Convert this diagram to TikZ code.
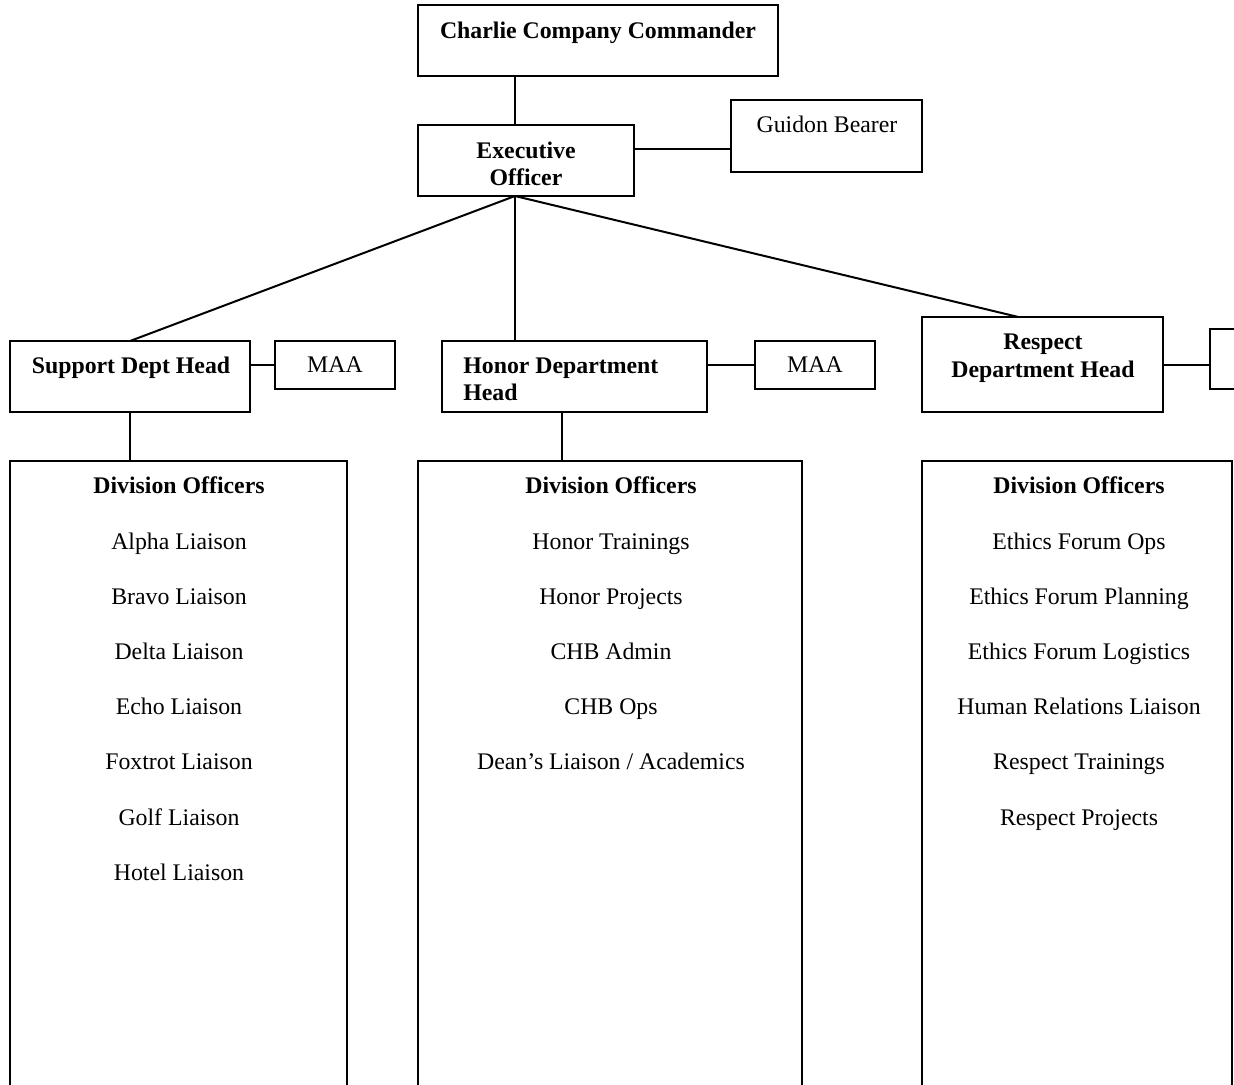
\documentclass[tikz,border=0pt]{standalone}
\usepackage{fontspec}
\setmainfont{Liberation Serif}
\usetikzlibrary{calc}
\begin{document}
\begin{tikzpicture}[x=0.5pt,y=-0.5pt,
  box/.style={draw=black,line width=1pt,inner sep=0pt,outer sep=0pt,fill=white},
  conn/.style={draw=black,line width=1pt},
  txt/.style={inner sep=0pt,anchor=base,font=\fontsize{11.9}{13.5}\selectfont,text=black},
  btxt/.style={txt,font=\fontsize{11.9}{13.5}\selectfont\bfseries}]
\useasboundingbox (0,0) rectangle (1234,1084);
\clip (0,0) rectangle (1234,1084);
% boxes
\node[box,minimum width=180pt,minimum height=35.5pt] (cmd) at (598,40.5) {};
\node[box,minimum width=108pt,minimum height=35.5pt] (exec) at (526,160.5) {};
\node[box,minimum width=95.5pt,minimum height=36pt] (gb) at (826.5,136) {};
\node[box,minimum width=120pt,minimum height=35.5pt] (suph) at (130,376.5) {};
\node[box,minimum width=60pt,minimum height=24pt] (supmaa) at (335,365) {};
\node[box,minimum width=132.5pt,minimum height=35.5pt] (honh) at (574.5,376.5) {};
\node[box,minimum width=60pt,minimum height=24pt] (honmaa) at (815,365) {};
\node[box,minimum width=120.5pt,minimum height=47.5pt] (resh) at (1042.5,364.5) {};
\node[box,minimum width=45pt,minimum height=30pt] (resx) at (1255,359) {};
\node[box,minimum width=168.5pt,minimum height=319.5pt] (supdiv) at (178.5,780.5) {};
\node[box,minimum width=192pt,minimum height=319.5pt] (hondiv) at (610,780.5) {};
\node[box,minimum width=155pt,minimum height=319.5pt] (resdiv) at (1077,780.5) {};
% connector coordinates
\coordinate (ct) at (cmd.south -| 515,0);
\coordinate (xo) at (exec.south -| 515,0);
\coordinate (xg) at ($(exec.north east)!0.34!(exec.south east)$);
\coordinate (rt) at ($(resh.north west)!0.4!(resh.north east)$);
\coordinate (hd) at (honh.south -| 562,0);
% connectors
\draw[conn] (ct) -- (exec.north -| ct);
\draw[conn] (xg) -- (xg -| gb.west);
\draw[conn] (xo) -- (suph.north);
\draw[conn] (xo) -- (honh.north -| xo);
\draw[conn] (xo) -- (rt);
\draw[conn] (supmaa.west -| suph.east) -- (supmaa.west);
\draw[conn] (honmaa.west -| honh.east) -- (honmaa.west);
\draw[conn] (resh.east) -- (resh.east -| resx.west);
\draw[conn] (suph.south) -- (supdiv.north -| suph.south);
\draw[conn] (hd) -- (hondiv.north -| hd);
% texts
\node[btxt] (tcmd) at (598,38) {Charlie Company Commander};
\node[btxt] (texec1) at (526,158) {Executive};
\node[btxt] (texec2) at (526,185) {Officer};
\node[txt] (tgb) at (827,132) {Guidon Bearer};
\node[btxt] (tsuph) at (131,373) {Support Dept Head};
\node[txt] (tsupmaa) at (335,372) {MAA};
\node[btxt,anchor=base west] (thonh1) at (463,373) {Honor Department};
\node[btxt,anchor=base west] (thonh2) at (463,400) {Head};
\node[txt] (thonmaa) at (815,372) {MAA};
\node[btxt] (tresh1) at (1043,349.5) {Respect};
\node[btxt] (tresh2) at (1043,377) {Department Head};
% division lists
\foreach \t [count=\i from 0] in {Alpha Liaison,Bravo Liaison,Delta Liaison,Echo Liaison,Foxtrot Liaison,Golf Liaison,Hotel Liaison}
  \node[txt] (sl\i) at (179,549.5+55.1*\i) {\t};
\foreach \t [count=\i from 0] in {Honor Trainings,Honor Projects,CHB Admin,CHB Ops,Dean’s Liaison / Academics}
  \node[txt] (hl\i) at (611,549.5+55.1*\i) {\t};
\foreach \t [count=\i from 0] in {Ethics Forum Ops,Ethics Forum Planning,Ethics Forum Logistics,Human Relations Liaison,Respect Trainings,Respect Projects}
  \node[txt] (rl\i) at (1079,549.5+55.1*\i) {\t};
\node[btxt] (sdo) at (179,493) {Division Officers};
\node[btxt] (hdo) at (611,493) {Division Officers};
\node[btxt] (rdo) at (1079,493) {Division Officers};
\end{tikzpicture}
\end{document}
